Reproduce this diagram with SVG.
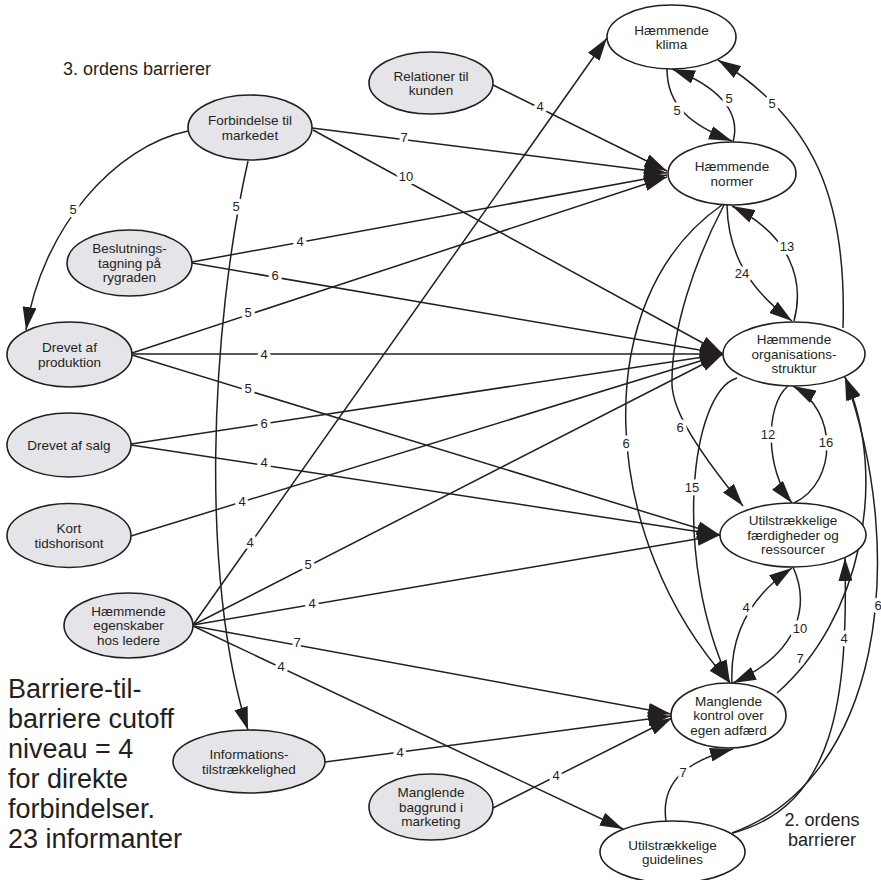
<svg xmlns="http://www.w3.org/2000/svg" width="881" height="880" viewBox="0 0 881 880">
<defs>
<marker id="ah" viewBox="0 0 23 14" refX="23" refY="7" markerWidth="23" markerHeight="14" markerUnits="userSpaceOnUse" orient="auto">
<path d="M0,0 L23,7 L0,14 z" fill="#231f20"/>
</marker>
<style>
text{font-family:"Liberation Sans",Arial,Helvetica,sans-serif;fill:#231f20}
.e{fill:none;stroke:#231f20;stroke-width:1.5;marker-end:url(#ah)}
.n ellipse{stroke:#231f20;stroke-width:1.6}
.w ellipse{fill:#ffffff}
.g ellipse{fill:#e5e5e9}
.n text{font-size:13.5px;text-anchor:middle}
.lb text{font-size:13px;text-anchor:middle;stroke:#ffffff;stroke-width:7;paint-order:stroke;stroke-linejoin:round}
.big{font-size:27px}
.mid{font-size:18px}
</style>
</defs>
<rect width="881" height="880" fill="#ffffff"/>
<g id="connectors">
<path class="e" d="M188,131 C115,146 42,228 26,330"/>
<path class="e" d="M248,161 C210,330 200,580 248,730"/>
<path class="e" d="M312,128 L667,173"/>
<path class="e" d="M313,130 L723,354"/>
<path class="e" d="M493,85 L667,171"/>
<path class="e" d="M192,262 L667,175"/>
<path class="e" d="M192,263 L723,354"/>
<path class="e" d="M132,353 L667,177"/>
<path class="e" d="M132,354 L723,354"/>
<path class="e" d="M132,355 L720,535"/>
<path class="e" d="M131,444 L723,354"/>
<path class="e" d="M131,445 L720,535"/>
<path class="e" d="M131,536 L723,354"/>
<path class="e" d="M193,625 L607,38"/>
<path class="e" d="M193,625 L723,354"/>
<path class="e" d="M193,625 L720,535"/>
<path class="e" d="M193,626 L671,714"/>
<path class="e" d="M193,626 L623,829"/>
<path class="e" d="M325,762 L671,716"/>
<path class="e" d="M493,808 L672,718"/>
<path class="e" d="M667,69 C667,105 690,125 732,141"/>
<path class="e" d="M733,142 C742,110 715,85 672,69"/>
<path class="e" d="M843,328 C847,200 815,120 718,60"/>
<path class="e" d="M727,205 C728,255 750,290 792,321"/>
<path class="e" d="M794,321 C805,280 790,235 732,206"/>
<path class="e" d="M722,205 C585,300 600,540 730,683"/>
<path class="e" d="M724,205 C695,260 671,330 672,385 C673,405 685,435 743,506"/>
<path class="e" d="M737,378 C690,392 672,560 730,683"/>
<path class="e" d="M788,386 C765,405 765,470 792,503"/>
<path class="e" d="M794,503 C838,482 838,410 793,386"/>
<path class="e" d="M732,683 C730,640 745,600 792,568"/>
<path class="e" d="M793,567 C808,600 805,650 733,683"/>
<path class="e" d="M777,693 C860,620 890,480 845,377"/>
<path class="e" d="M732,833 C880,780 910,560 845,377"/>
<path class="e" d="M733,833 C835,805 848,700 845,558"/>
<path class="e" d="M666,821 C660,780 690,760 733,749"/>
</g>
<g id="edge-labels" class="lb">
<text x="73" y="213.5">5</text>
<text x="236" y="210.5">5</text>
<text x="404" y="141.5">7</text>
<text x="406" y="180.5">10</text>
<text x="540" y="110.5">4</text>
<text x="300" y="245.5">4</text>
<text x="275" y="279.5">6</text>
<text x="248" y="316.5">5</text>
<text x="264" y="358.5">4</text>
<text x="248" y="392.5">5</text>
<text x="264" y="427.5">6</text>
<text x="264" y="466.5">4</text>
<text x="242" y="505.5">4</text>
<text x="250" y="546.5">4</text>
<text x="308" y="568.5">5</text>
<text x="312" y="607.5">4</text>
<text x="297" y="646.5">7</text>
<text x="281" y="670.5">4</text>
<text x="400" y="756.5">4</text>
<text x="556" y="779.5">4</text>
<text x="677" y="114.5">5</text>
<text x="729" y="102.5">5</text>
<text x="772" y="107.5">5</text>
<text x="742" y="277.5">24</text>
<text x="787" y="250.5">13</text>
<text x="626" y="447.5">6</text>
<text x="680" y="431.5">6</text>
<text x="692" y="491.5">15</text>
<text x="768" y="438.5">12</text>
<text x="826" y="446.5">16</text>
<text x="746" y="611.5">4</text>
<text x="800" y="632.5">10</text>
<text x="800" y="662.5">7</text>
<text x="844" y="642.5">4</text>
<text x="878" y="609.5">6</text>
<text x="683" y="776.5">7</text>
</g>
<g id="node-klima" class="n w"><ellipse cx="671.5" cy="37" rx="64.5" ry="32"/><text x="671.5" y="34.6">Hæmmende</text><text x="671.5" y="49.1">klima</text></g>
<g id="node-normer" class="n w"><ellipse cx="732" cy="173.5" rx="64" ry="31.5"/><text x="732" y="171.1">Hæmmende</text><text x="732" y="185.6">normer</text></g>
<g id="node-organisation" class="n w"><ellipse cx="794" cy="354" rx="71" ry="32"/><text x="794" y="344.3">Hæmmende</text><text x="794" y="358.8">organisations-</text><text x="794" y="373.3">struktur</text></g>
<g id="node-faerdigheder" class="n w"><ellipse cx="793" cy="535" rx="73" ry="32"/><text x="793" y="525.3">Utilstrækkelige</text><text x="793" y="539.8">færdigheder og</text><text x="793" y="554.3">ressourcer</text></g>
<g id="node-kontrol" class="n w"><ellipse cx="728.5" cy="715.5" rx="57.5" ry="32.5"/><text x="728.5" y="705.8">Manglende</text><text x="728.5" y="720.3">kontrol over</text><text x="728.5" y="734.8">egen adfærd</text></g>
<g id="node-guidelines" class="n w"><ellipse cx="672.5" cy="852" rx="72.5" ry="31"/><text x="672.5" y="849.6">Utilstrækkelige</text><text x="672.5" y="864.1">guidelines</text></g>
<g id="node-relationer" class="n g"><ellipse cx="431" cy="83" rx="62" ry="31"/><text x="431" y="80.6">Relationer til</text><text x="431" y="95.1">kunden</text></g>
<g id="node-forbindelse" class="n g"><ellipse cx="250" cy="127.5" rx="62" ry="32.5"/><text x="250" y="125.1">Forbindelse til</text><text x="250" y="139.6">markedet</text></g>
<g id="node-beslutning" class="n g"><ellipse cx="129.5" cy="263" rx="62.5" ry="33"/><text x="129.5" y="253.3">Beslutnings-</text><text x="129.5" y="267.8">tagning på</text><text x="129.5" y="282.3">rygraden</text></g>
<g id="node-produktion" class="n g"><ellipse cx="69.5" cy="354.5" rx="62.5" ry="32.5"/><text x="69.5" y="352.1">Drevet af</text><text x="69.5" y="366.6">produktion</text></g>
<g id="node-salg" class="n g"><ellipse cx="69" cy="445" rx="62" ry="32"/><text x="69" y="449.8">Drevet af salg</text></g>
<g id="node-kort" class="n g"><ellipse cx="69" cy="535.5" rx="62" ry="32"/><text x="69" y="533.1">Kort</text><text x="69" y="547.6">tidshorisont</text></g>
<g id="node-egenskaber" class="n g"><ellipse cx="128.5" cy="625.5" rx="64.5" ry="32.5"/><text x="128.5" y="615.8">Hæmmende</text><text x="128.5" y="630.3">egenskaber</text><text x="128.5" y="644.8">hos ledere</text></g>
<g id="node-information" class="n g"><ellipse cx="249" cy="761.5" rx="76" ry="31.5"/><text x="249" y="759.1">Informations-</text><text x="249" y="773.6">tilstrækkelighed</text></g>
<g id="node-baggrund" class="n g"><ellipse cx="431" cy="807" rx="62" ry="33"/><text x="431" y="797.3">Manglende</text><text x="431" y="811.8">baggrund i</text><text x="431" y="826.3">marketing</text></g>
<text class="mid" x="63" y="74.5">3. ordens barrierer</text>
<text class="mid" x="822" y="825.5" text-anchor="middle">2. ordens</text>
<text class="mid" x="822" y="845.5" text-anchor="middle">barrierer</text>
<text class="big" x="8"><tspan x="8" y="697.7">Barriere-til-</tspan><tspan x="8" y="727.8">barriere cutoff</tspan><tspan x="8" y="757.9">niveau = 4</tspan><tspan x="8" y="788">for direkte</tspan><tspan x="8" y="818.1">forbindelser.</tspan><tspan x="8" y="848.2">23 informanter</tspan></text>
</svg>
